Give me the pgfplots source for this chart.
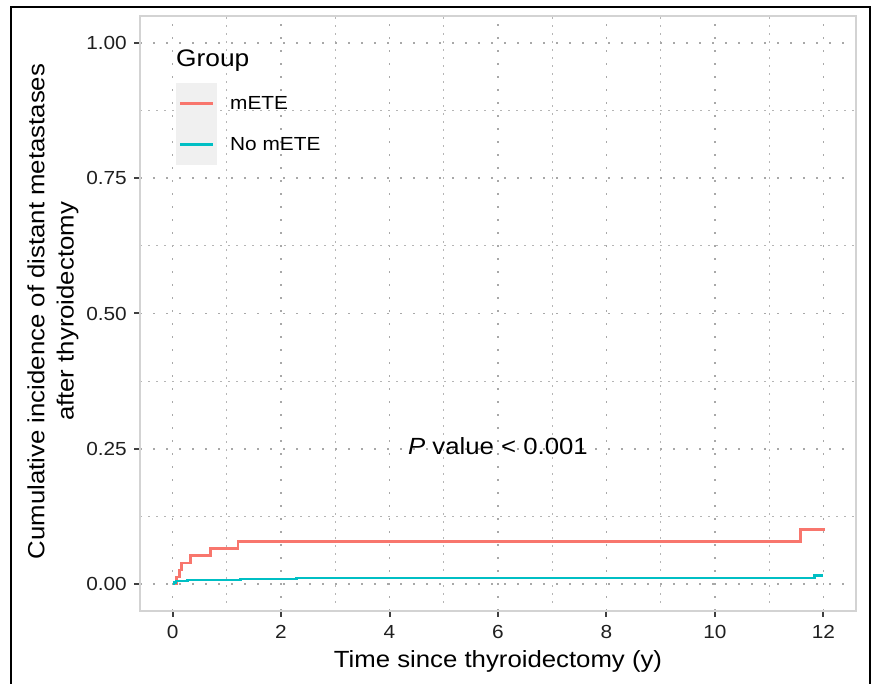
\documentclass[border=0pt]{standalone}
\usepackage{fontspec}
\setmainfont{Liberation Sans}[FakeStretch=1.1]
\usepackage{pgfplots}
\pgfplotsset{compat=1.18}
\definecolor{cRed}{HTML}{F8766D}
\definecolor{cTeal}{HTML}{00BFC4}
\definecolor{gridc}{HTML}{A8A8A8}
\definecolor{panelc}{HTML}{D3D3D3}
\definecolor{keybg}{HTML}{F0F0F0}

\pgfplotstableread{
t     p
0     0
0.07  0.013
0.13  0.026
0.16  0.039
0.33  0.053
0.70  0.065
1.21  0.078
11.58 0.101
12.03 0.101
}\mete

\pgfplotstableread{
t     p
0     0
0.03  0.003
0.06  0.0055
0.28  0.0074
1.25  0.0092
2.29  0.011
11.84 0.016
12.0  0.016
}\nomete

\begin{document}
\begin{tikzpicture}
\useasboundingbox (0,0) rectangle (873bp,684bp);
\draw[line width=2bp] (11bp,-20bp) -- (11bp,676.5bp) -- (869.5bp,676.5bp) -- (869.5bp,-20bp);
\begin{axis}[
  at={(140bp,73bp)}, anchor=south west, scale only axis,
  width=716bp, height=595bp,
  xmin=-0.6, xmax=12.6, ymin=-0.05, ymax=1.05,
  xtick={0,2,...,12}, ytick={0,0.25,0.5,0.75,1},
  minor xtick={1,3,...,11}, minor ytick={0.125,0.375,0.625,0.875},
  grid=both,
  major grid style={gridc, line width=1.8bp, dash pattern=on 1.8bp off 11.2bp},
  minor grid style={gridc!85, line width=1.2bp, dash pattern=on 1.5bp off 6.5bp},
  axis line style={draw=panelc, line width=1.6bp},
  tick align=outside, tick pos=left,
  major tick length=6bp, minor tick length=0bp,
  major tick style={black!75, line width=2bp},
  /pgf/number format/assume math mode=true,
  tick label style={font=\fontsize{19}{21}\selectfont, text=black!88},
  yticklabel style={/pgf/number format/fixed, /pgf/number format/fixed zerofill, /pgf/number format/precision=2, inner sep=0pt, xshift=-7bp},
  xticklabel style={inner sep=0pt, yshift=-8bp},
  xlabel={Time since thyroidectomy (y)},
  xlabel style={at={(rel axis cs:0.5,0)}, anchor=base, yshift=-56.3bp, font=\fontsize{23.5}{28}\selectfont},
  clip=false,
]
\addplot[const plot, cRed, line width=2.6bp] table[x=t, y=p] {\mete};
\addplot[const plot, cTeal, line width=2.6bp] table[x=t, y=p] {\nomete};
\node[font=\fontsize{23.5}{28}\selectfont, anchor=center] at (axis cs:6,0.254) {\textit{P} value < 0.001};
\end{axis}
% y axis title
\node[rotate=90, align=center, font=\fontsize{23.5}{29.5}\selectfont] at (53bp,372.5bp)
  {Cumulative incidence of distant metastases\\after thyroidectomy};
% legend
\node[anchor=base west, inner sep=0pt, font=\fontsize{24}{28}\selectfont] at (176bp,617bp) {Group};
\fill[keybg] (176bp,519bp) rectangle (216.7bp,600.7bp);
\draw[cRed, line width=2.6bp] (180bp,580.7bp) -- (212.7bp,580.7bp);
\draw[cTeal, line width=2.6bp] (180bp,539.7bp) -- (212.7bp,539.7bp);
\node[anchor=west, inner sep=0pt, font=\fontsize{19}{21}\selectfont] at (230bp,580.7bp) {mETE};
\node[anchor=west, inner sep=0pt, font=\fontsize{19}{21}\selectfont] at (230bp,539.7bp) {No mETE};
\end{tikzpicture}
\end{document}
